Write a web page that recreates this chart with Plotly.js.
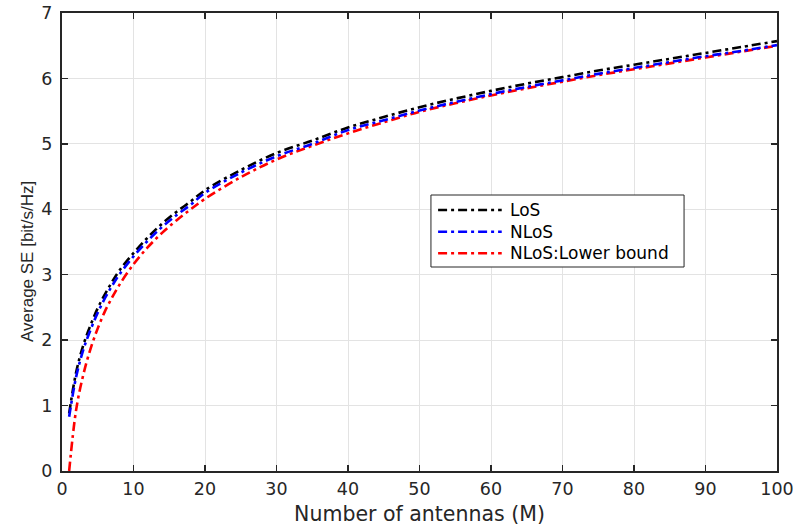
<!DOCTYPE html>
<html>
<head>
<meta charset="utf-8">
<script src="https://cdn.plot.ly/plotly-3.0.1.min.js"></script>
<style>html,body{margin:0;padding:0;background:#fff;}#chart{width:793px;height:531px;}</style>
</head>
<body>
<div id="chart"></div>
<script>
// Number of antennas (M)
const antennas = [1,2,3,4,5,6,7,8,10,12,14,16,18,20,25,30,35,40,45,50,55,60,65,70,75,80,85,90,95,100];
// Average SE [bit/s/Hz]
const seLoS = [0.88,1.52,1.93,2.23,2.49,2.70,2.89,3.06,3.33,3.57,3.78,3.96,4.12,4.29,4.60,4.86,5.05,5.25,5.41,5.56,5.69,5.81,5.92,6.02,6.12,6.21,6.30,6.39,6.48,6.57];
const seNLoS = [0.83,1.45,1.86,2.16,2.42,2.64,2.83,3.00,3.28,3.52,3.73,3.91,4.07,4.25,4.56,4.81,5.00,5.21,5.36,5.51,5.64,5.76,5.87,5.97,6.07,6.16,6.25,6.34,6.42,6.51];
const seNLoSLower = [0.00,0.95,1.48,1.87,2.18,2.44,2.65,2.84,3.16,3.42,3.64,3.83,4.00,4.16,4.49,4.76,4.97,5.16,5.33,5.49,5.62,5.74,5.85,5.95,6.05,6.14,6.23,6.32,6.41,6.50];
const seriesNames = ['LoS','NLoS','NLoS:Lower bound'];
const seriesColors = ['#000000','#0000ff','#ff0000'];
const xTicks = [0,10,20,30,40,50,60,70,80,90,100];
const yTicks = [0,1,2,3,4,5,6,7];

const dashPattern = '9px,4px,3px,4px';
const lineW = 2.6;
const wideFont = 'DejaVu Sans, Verdana, sans-serif';
const narrowFont = 'Liberation Sans, Arial, sans-serif';
const txtColor = '#262626';

const traces = [
  {x: antennas, y: seLoS, name: seriesNames[0], mode: 'lines',
   line: {color: seriesColors[0], width: lineW, dash: dashPattern, shape: 'spline'}},
  {x: antennas, y: seNLoSLower, name: seriesNames[2], mode: 'lines',
   line: {color: seriesColors[2], width: lineW, dash: dashPattern, shape: 'spline'}},
  {x: antennas, y: seNLoS, name: seriesNames[1], mode: 'lines',
   line: {color: seriesColors[1], width: lineW, dash: dashPattern, shape: 'spline'}}
];

const axisCommon = {
  showline: true, linecolor: txtColor, linewidth: 2, mirror: 'ticks',
  ticks: 'inside', ticklen: 6, tickwidth: 1.5, tickcolor: txtColor,
  showgrid: true, gridcolor: '#e3e3e3', gridwidth: 1, zeroline: false,
  tickfont: {family: wideFont, size: 17.5, color: txtColor}
};

// Legend box (drawn as layout shapes/annotations so the sample lines match the original length)
const lgX0 = 0.516, lgX1 = 0.870, lgY0 = 0.4454, lgY1 = 0.6026;
const lgLineX0 = 0.526, lgLineX1 = 0.615, lgTextX = 0.6238;
const lgRows = [0.5699, 0.5225, 0.4753];

const shapes = [{type: 'rect', xref: 'paper', yref: 'paper', x0: lgX0, x1: lgX1, y0: lgY0, y1: lgY1,
                 line: {color: txtColor, width: 1}, fillcolor: '#ffffff', layer: 'above'}];
const annotations = [{
  text: 'Average SE [bit/s/Hz]', xref: 'paper', yref: 'paper', x: -0.049, y: 0.4585,
  xanchor: 'center', yanchor: 'middle', textangle: -90, showarrow: false,
  font: {family: narrowFont, size: 17, color: txtColor}
}];
seriesNames.forEach((nm, i) => {
  shapes.push({type: 'line', xref: 'paper', yref: 'paper', x0: lgLineX0, x1: lgLineX1, y0: lgRows[i], y1: lgRows[i],
               line: {color: seriesColors[i], width: lineW, dash: dashPattern}, layer: 'above'});
  annotations.push({text: nm, xref: 'paper', yref: 'paper', x: lgTextX, y: lgRows[i],
                    xanchor: 'left', yanchor: 'middle', showarrow: false,
                    font: {family: wideFont, size: 17, color: '#000000'}});
});

const layout = {
  width: 793, height: 531,
  margin: {l: 62, r: 16, t: 13, b: 60},
  paper_bgcolor: '#ffffff', plot_bgcolor: '#ffffff',
  showlegend: false,
  xaxis: Object.assign({}, axisCommon, {
    range: [0, 100], tickvals: xTicks, ticktext: xTicks.map(String), ticklabelstandoff: 1,
    ticklabeloverflow: 'allow',
    title: {text: 'Number of antennas (M)', standoff: 9,
            font: {family: wideFont, size: 20.5, color: txtColor}}
  }),
  yaxis: Object.assign({}, axisCommon, {
    range: [0, 7], tickvals: yTicks, ticktext: yTicks.map(String), ticklabelstandoff: 4,
    ticklabeloverflow: 'allow'
  }),
  shapes: shapes,
  annotations: annotations
};

Plotly.newPlot('chart', traces, layout, {displayModeBar: false, staticPlot: true});
</script>
</body>
</html>
